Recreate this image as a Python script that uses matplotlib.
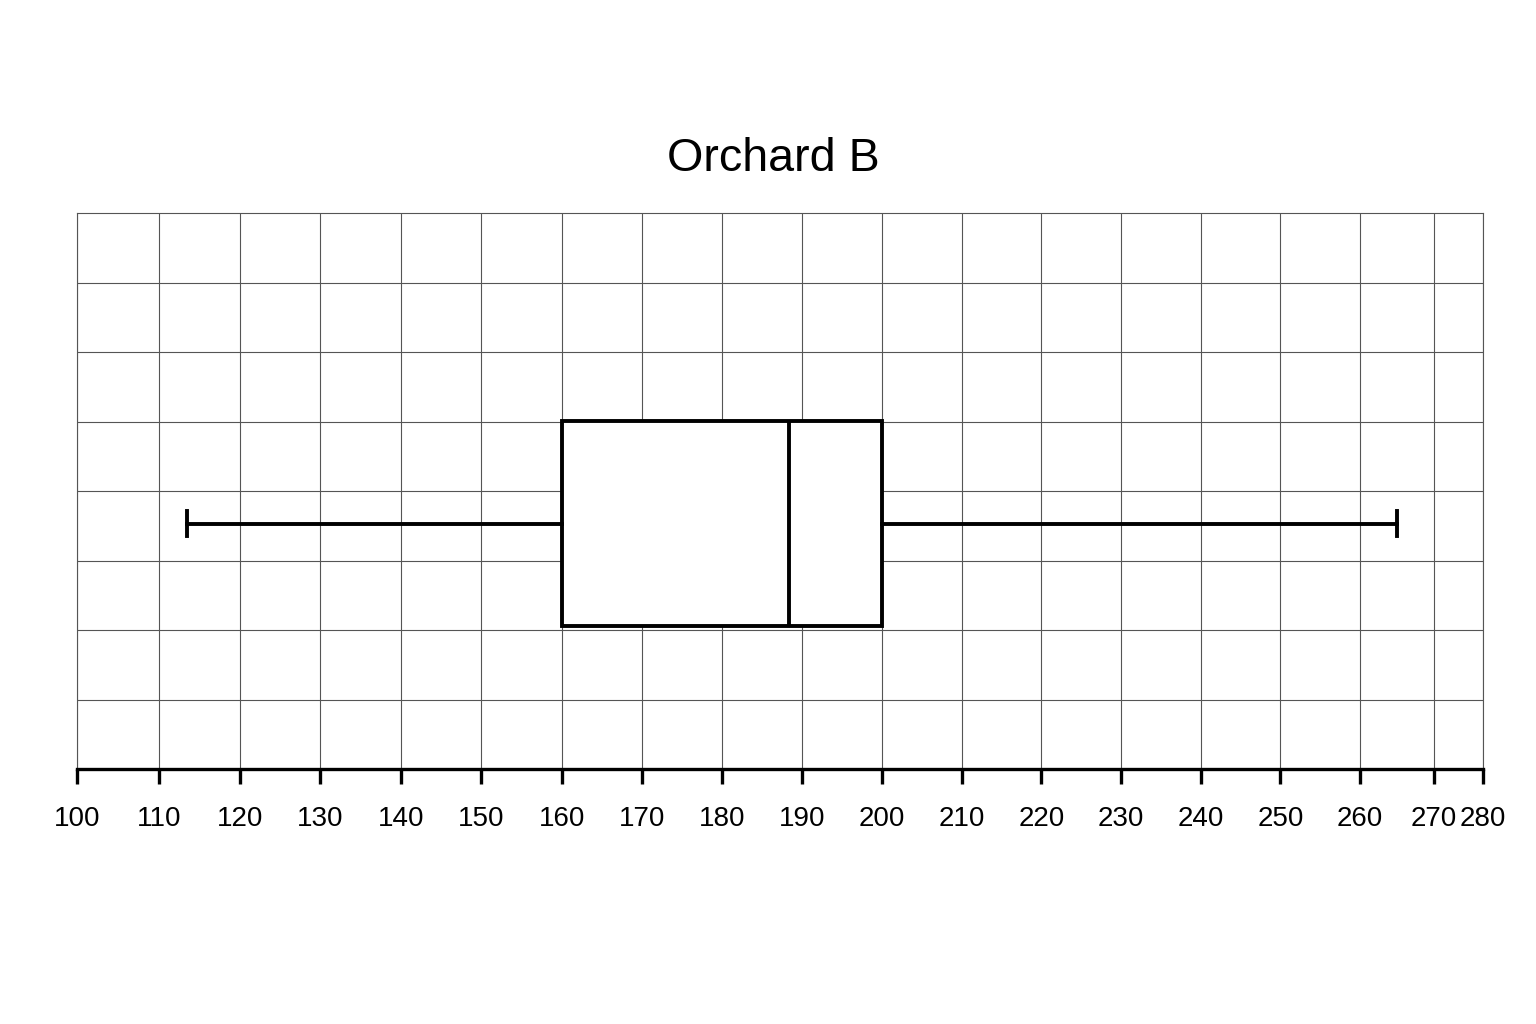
import numpy as np
import matplotlib
matplotlib.use("Agg")
from matplotlib import pyplot as plt

# five-number summary for Orchard B
whisker_lo = 113.5
q1 = 160
median = 188.4
q3 = 200
whisker_hi = 265

x_ticks = list(range(100, 281, 10))
title = "Orchard B"

# the original axis is hand-spaced (squeezed past 260), so use a piecewise scale
scale_in = [0, 100, 110, 160, 200, 260, 270, 280, 400]
scale_out = [-727, 77, 159, 562, 882, 1360, 1434, 1483, 2443]

def fwd(x):
    return np.interp(x, scale_in, scale_out)

def inv(x):
    return np.interp(x, scale_out, scale_in)

plt.rcParams['font.family'] = ['Liberation Sans', 'DejaVu Sans']

fig = plt.figure(figsize=(15.36, 10.24), dpi=100)
ax = fig.add_axes([77/1536, 1 - 769/1024, (1483-77)/1536, (769-213)/1024])
ax.set_xscale('function', functions=(fwd, inv))

stats = [dict(whislo=whisker_lo, q1=q1, med=median, q3=q3, whishi=whisker_hi, fliers=[])]
lw = 2.8
ax.bxp(stats, positions=[3.53], widths=2.95, orientation='horizontal', capwidths=0.36,
       patch_artist=True,
       boxprops=dict(facecolor='white', edgecolor='black', linewidth=lw),
       medianprops=dict(color='black', linewidth=lw),
       whiskerprops=dict(color='black', linewidth=lw),
       capprops=dict(color='black', linewidth=lw),
       showfliers=False, zorder=3)

ax.set_xlim(100, 280)
ax.set_ylim(0, 8)
ax.set_xticks(x_ticks)
ax.set_xticklabels([str(t) for t in x_ticks])
ax.set_yticks(range(1, 8))
ax.tick_params(axis='y', left=False, labelleft=False)
ax.tick_params(axis='x', direction='out', length=11, width=2.4, pad=15.5,
               labelsize=20, color='black')

ax.grid(True, color='#555555', linewidth=0.8, zorder=0)
ax.set_axisbelow(True)
for side in ['left', 'right', 'top']:
    ax.spines[side].set_color('#555555')
    ax.spines[side].set_linewidth(0.8)
ax.spines['bottom'].set_color('black')
ax.spines['bottom'].set_linewidth(2.4)

ax.set_title(title, fontsize=33.6, pad=30, x=0.495)

fig.savefig('out.png', dpi=100, facecolor='white')
